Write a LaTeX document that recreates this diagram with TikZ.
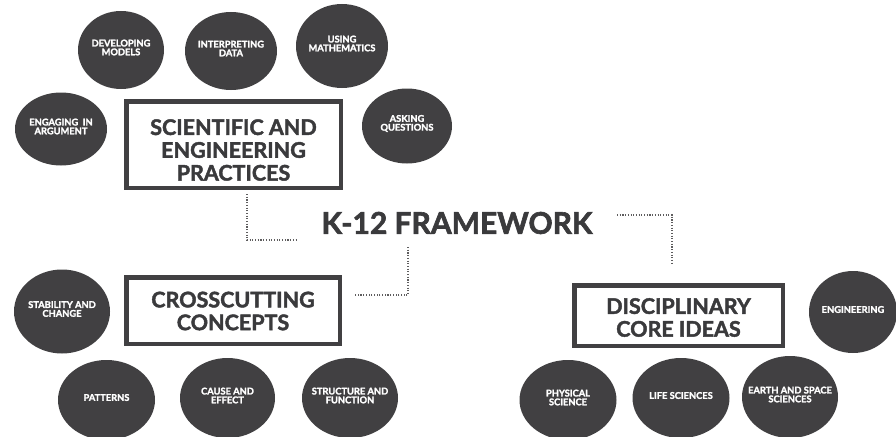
\documentclass[tikz,border=0pt]{standalone}
\usepackage{fontspec}
\setmainfont{Lato}[BoldFeatures={FakeBold=2}]
\usetikzlibrary{shapes.geometric,calc}
\definecolor{dark}{HTML}{414042}
\definecolor{ink}{HTML}{3A3A3C}
\tikzset{
  bubble/.style={ellipse, fill=dark, inner sep=0pt, minimum width=94pt, minimum height=80pt,
    label={[text=white, font=\bfseries\fontsize{9.3}{8.8}\selectfont, align=center, inner sep=0pt, yshift=2.5pt]center:#1}},
  titlebox/.style={draw=dark, line width=4.5pt, inner sep=0pt},
  boxtext/.style={text=ink, font=\bfseries\fontsize{21.5}{22.8}\selectfont, align=center, inner sep=0pt},
  dotline/.style={draw=dark!85, line width=1.3pt, dash pattern=on 1.1pt off 1.6pt}
}
\begin{document}
\begin{tikzpicture}[x=1pt,y=-1pt]
\useasboundingbox (0,0) rectangle (896,436);
% Scientific and engineering practices
\node[bubble={DEVELOPING\\MODELS}, minimum width=86pt, minimum height=78pt] (dev) at (121,50) {};
\node[bubble={INTERPRETING\\DATA}, minimum width=92pt, minimum height=78pt] (int) at (231,51) {};
\node[bubble={USING\\MATHEMATICS}, minimum width=92pt, minimum height=84pt] (mat) at (342,46) {};
\node[bubble={ENGAGING\ \ IN\\ARGUMENT}, minimum width=92pt, minimum height=73pt] (arg) at (61,129) {};
\node[bubble={ASKING\\QUESTIONS}, minimum width=90pt, minimum height=75pt] (ask) at (407,126) {};
\node[titlebox, minimum width=214.5pt, minimum height=86.5pt,
  label={[boxtext, yshift=-5.5pt]center:SCIENTIFIC AND\\ENGINEERING\\PRACTICES}] (sep) at (233.5,144.5) {};
% Framework title
\node[text=ink, font=\bfseries\fontsize{30}{32}\selectfont, inner sep=0pt] (k12) at (457,223) {K-12 FRAMEWORK};
% Crosscutting concepts
\node[titlebox, minimum width=213.5pt, minimum height=66.5pt,
  label={[boxtext, yshift=-0.5pt]center:CROSSCUTTING\\CONCEPTS}] (ccc) at (233,310.5) {};
\node[bubble={STABILITY AND\\CHANGE}, minimum width=96pt, minimum height=84pt] (stab) at (62,311.5) {};
\node[bubble={PATTERNS}, minimum width=97pt, minimum height=80pt] (pat) at (106.5,400) {};
\node[bubble={CAUSE AND\\EFFECT}, minimum width=95pt, minimum height=80pt] (cause) at (227.5,398) {};
\node[bubble={STRUCTURE AND\\FUNCTION}, minimum width=96pt, minimum height=80pt] (struct) at (350,398) {};
% Disciplinary core ideas
\node[titlebox, minimum width=208.5pt, minimum height=60.5pt,
  label={[boxtext, yshift=-2pt]center:DISCIPLINARY\\CORE IDEAS}] (dci) at (678.5,315.5) {};
\node[bubble={ENGINEERING}, minimum width=88pt, minimum height=82pt] (eng) at (853,312) {};
\node[bubble={PHYSICAL\\SCIENCE}, minimum width=97pt, minimum height=80pt] (phys) at (568,400) {};
\node[bubble={LIFE SCIENCES}, minimum width=97pt, minimum height=80pt] (life) at (681,398) {};
\node[bubble={EARTH AND SPACE\\SCIENCES}, minimum width=96pt, minimum height=82pt] (earth) at (790,397) {};
% Dotted connectors
\coordinate (l1) at (247,194);
\coordinate (l2) at (298,240);
\draw[dotline] (l1) |- (l2);
\coordinate (m1) at (408,247);
\coordinate (m2) at (354,295);
\draw[dotline] (m1) |- (m2);
\coordinate (r1) at (617,215);
\coordinate (r2) at (672,265);
\draw[dotline] (r1) -| (r2);
\end{tikzpicture}
\end{document}
